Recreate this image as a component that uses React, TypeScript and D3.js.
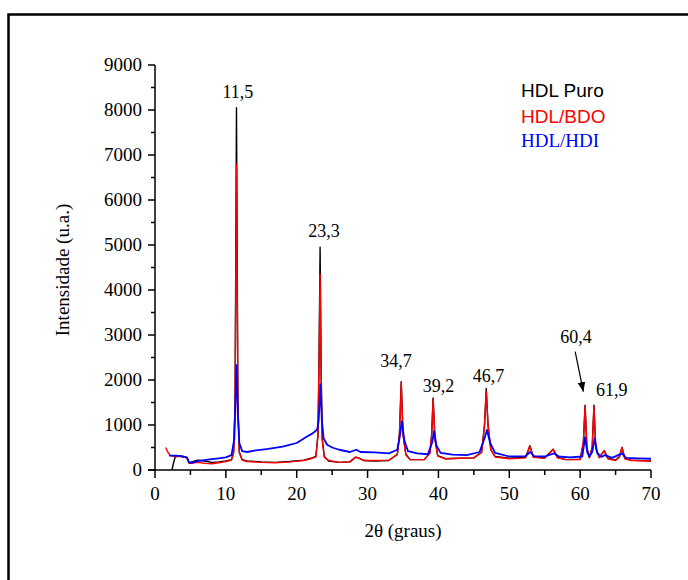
import { useEffect, useRef } from "react";
import * as d3 from "d3";

type Pt = [number, number];

// difratogramas (2θ, intensidade)
const hdlPuro: Pt[] = [
  [2.4, 0], [2.6, 150], [2.85, 290], [3.2, 310], [3.8, 300], [4.3, 290], [4.6, 250], [4.8, 160],
  [5.2, 180], [6, 220], [7, 200], [8, 170], [9, 180], [10, 200], [10.8, 230], [11.1, 400],
  [11.3, 1500], [11.5, 8050], [11.7, 1500], [11.9, 400], [12.3, 230], [13, 200], [15, 180],
  [17, 170], [19, 190], [21, 220], [22, 260], [22.7, 300], [23.0, 800], [23.15, 2500],
  [23.3, 4950], [23.45, 2200], [23.6, 700], [23.9, 300], [24.5, 200], [26, 170], [27.5, 180],
  [28.3, 280], [28.7, 270], [29.5, 210], [31, 200], [33, 210], [34.2, 350], [34.5, 800],
  [34.75, 1960], [35, 800], [35.4, 350], [36, 230], [38, 230], [38.8, 380], [39.05, 800],
  [39.25, 1600], [39.5, 700], [39.9, 320], [41, 250], [43, 260], [45, 270], [46.1, 400],
  [46.5, 1000], [46.75, 1810], [47, 1000], [47.4, 450], [48, 300], [50, 260], [52.3, 280],
  [52.9, 540], [53.4, 290], [55, 270], [56.2, 460], [56.8, 280], [58, 230], [60, 240],
  [60.45, 600], [60.7, 1440], [60.95, 500], [61.3, 280], [61.7, 500], [61.95, 1440],
  [62.2, 500], [62.7, 280], [63.4, 430], [63.9, 260], [65, 220], [65.55, 300], [65.9, 500],
  [66.3, 260], [67.2, 220], [70, 200],
];

const hdlBdo: Pt[] = [
  [1.5, 500], [1.8, 400], [2.2, 320], [2.8, 300], [3.2, 300], [3.8, 300], [4.3, 280], [4.6, 240],
  [4.8, 150], [5.2, 150], [6, 170], [7, 150], [8, 140], [9, 160], [10, 190], [10.8, 220],
  [11.1, 380], [11.3, 1400], [11.5, 6800], [11.7, 1400], [11.9, 380], [12.3, 220], [13, 190],
  [15, 170], [17, 160], [19, 180], [21, 210], [22, 250], [22.7, 290], [23.0, 750],
  [23.15, 2300], [23.3, 4350], [23.45, 2000], [23.6, 650], [23.9, 280], [24.5, 210], [26, 170],
  [27.5, 180], [28.3, 290], [28.7, 270], [29.5, 210], [31, 210], [33, 220], [34.2, 340],
  [34.5, 780], [34.75, 1940], [35, 780], [35.4, 340], [36, 230], [38, 230], [38.8, 370],
  [39.05, 780], [39.25, 1580], [39.5, 680], [39.9, 310], [41, 250], [43, 260], [45, 270],
  [46.1, 390], [46.5, 980], [46.75, 1740], [47, 980], [47.4, 440], [48, 290], [50, 250],
  [52.3, 270], [52.9, 530], [53.4, 280], [55, 260], [56.2, 460], [56.8, 270], [58, 230],
  [60, 230], [60.45, 590], [60.7, 1430], [60.95, 490], [61.3, 270], [61.7, 490], [61.95, 1420],
  [62.2, 490], [62.7, 270], [63.4, 430], [63.9, 250], [65, 210], [65.55, 290], [65.9, 500],
  [66.3, 250], [67.2, 210], [70, 200],
];

const hdlHdi: Pt[] = [
  [2.0, 320], [3, 320], [4, 300], [4.5, 280], [4.8, 170], [5.2, 160], [6, 200], [7, 220],
  [8, 240], [9, 260], [10, 280], [10.8, 330], [11.2, 700], [11.5, 2330], [11.7, 1200],
  [11.9, 600], [12.3, 420], [13, 400], [14, 430], [16, 470], [18, 520], [20, 600], [21.4, 740],
  [22.3, 820], [22.9, 900], [23.1, 1100], [23.35, 1900], [23.55, 1100], [23.8, 700],
  [24.3, 560], [25, 500], [26, 450], [27.5, 400], [28.4, 450], [29, 400], [31, 390], [33, 370],
  [34.2, 450], [34.5, 700], [34.85, 1080], [35.2, 650], [35.7, 420], [37, 370], [38.5, 350],
  [39.1, 600], [39.4, 870], [39.7, 550], [40.3, 380], [42, 340], [44, 330], [45.8, 400],
  [46.5, 700], [46.85, 890], [47.3, 600], [48, 380], [50, 300], [52.3, 310], [52.95, 400],
  [53.5, 310], [55, 300], [56.3, 370], [57, 300], [58.5, 280], [60.3, 300], [60.7, 730],
  [61, 400], [61.3, 300], [61.7, 400], [62.05, 700], [62.4, 380], [63, 290], [63.5, 330],
  [64.5, 270], [65.9, 370], [66.5, 270], [68, 260], [70, 250],
];

const xTicks = [0, 10, 20, 30, 40, 50, 60, 70];
const yTicks = [0, 1000, 2000, 3000, 4000, 5000, 6000, 7000, 8000, 9000];

// rótulos dos picos: texto, posição (2θ, intensidade) da linha de base
const peakLabels: [string, number, number][] = [
  ["11,5", 11.7, 8270],
  ["23,3", 23.85, 5185],
  ["34,7", 34.0, 2290],
  ["39,2", 40.0, 1740],
  ["46,7", 47.07, 1962],
  ["60,4", 59.4, 2830],
  ["61,9", 64.45, 1655],
];
const arrow: [Pt, Pt] = [[59.3, 2630], [60.45, 1740]];

const series = [
  { name: "HDL Puro", data: hdlPuro, color: "#000000", font: "'Liberation Sans', Arial, sans-serif" },
  { name: "HDL/BDO", data: hdlBdo, color: "#ff0000", font: "'Liberation Sans', Arial, sans-serif" },
  { name: "HDL/HDI", data: hdlHdi, color: "#0000ff", font: "'Liberation Serif', 'Times New Roman', serif" },
];

const SERIF = "'Liberation Serif', 'Times New Roman', serif";

const App = () => {
  const svgRef = useRef<SVGSVGElement>(null);

  useEffect(() => {
    const svg = d3.select(svgRef.current);
    svg.selectAll("*").remove();

    const x = d3.scaleLinear().domain([0, 70]).range([155, 651]);
    const y = d3.scaleLinear().domain([0, 9000]).range([470, 65]);

    // moldura
    svg.append("rect")
      .attr("x", 8.5).attr("y", 14.5).attr("width", 700).attr("height", 600)
      .attr("fill", "none").attr("stroke", "#000").attr("stroke-width", 2.5);

    // curvas
    const line = d3.line<Pt>().x((d) => x(d[0])).y((d) => y(d[1]));
    series.forEach((s) => {
      svg.append("path")
        .datum(s.data)
        .attr("d", line)
        .attr("fill", "none")
        .attr("stroke", s.color)
        .attr("stroke-width", s.name === "HDL/HDI" ? 1.8 : 1.4)
        .attr("stroke-linejoin", "round");
    });

    // eixo y
    const gy = svg.append("g");
    gy.append("line").attr("x1", 155).attr("x2", 155).attr("y1", y(9000)).attr("y2", y(0))
      .attr("stroke", "#000").attr("stroke-width", 1.5);
    d3.range(0, 9001, 500).forEach((v) => {
      const major = v % 1000 === 0;
      gy.append("line").attr("x1", 155).attr("x2", 155 - (major ? 7 : 4))
        .attr("y1", y(v)).attr("y2", y(v)).attr("stroke", "#000").attr("stroke-width", 1.5);
    });
    gy.selectAll("text").data(yTicks).enter().append("text")
      .attr("x", 142).attr("y", (d) => y(d)).attr("dy", "0.34em")
      .attr("text-anchor", "end").attr("font-family", SERIF).attr("font-size", 19)
      .text((d) => d);

    // eixo x
    const gx = svg.append("g");
    gx.append("line").attr("x1", 148).attr("x2", x(70)).attr("y1", 470).attr("y2", 470)
      .attr("stroke", "#000").attr("stroke-width", 1.5);
    d3.range(0, 71, 5).forEach((v) => {
      const major = v % 10 === 0;
      gx.append("line").attr("x1", x(v)).attr("x2", x(v))
        .attr("y1", 470).attr("y2", 470 + (major ? 8 : 5)).attr("stroke", "#000").attr("stroke-width", 1.5);
    });
    gx.selectAll("text").data(xTicks).enter().append("text")
      .attr("x", (d) => x(d)).attr("y", 500)
      .attr("text-anchor", "middle").attr("font-family", SERIF).attr("font-size", 19)
      .text((d) => d);

    // títulos
    svg.append("text").attr("x", 403).attr("y", 537).attr("text-anchor", "middle")
      .attr("font-family", SERIF).attr("font-size", 19).text("2θ (graus)");
    svg.append("text").attr("transform", "translate(69,270) rotate(-90)").attr("text-anchor", "middle")
      .attr("font-family", SERIF).attr("font-size", 19).text("Intensidade (u.a.)");

    // rótulos dos picos
    svg.selectAll(".peak").data(peakLabels).enter().append("text")
      .classed("peak", true)
      .attr("x", (d) => x(d[1])).attr("y", (d) => y(d[2]))
      .attr("text-anchor", "middle").attr("font-family", SERIF).attr("font-size", 18)
      .text((d) => d[0]);

    // seta 60,4
    svg.append("defs").append("marker")
      .attr("id", "head").attr("viewBox", "0 0 10 10").attr("refX", 10).attr("refY", 5)
      .attr("markerWidth", 8).attr("markerHeight", 8).attr("orient", "auto")
      .append("path").attr("d", "M0,1 L10,5 L0,9 z").attr("fill", "#000");
    svg.append("line")
      .attr("x1", x(arrow[0][0])).attr("y1", y(arrow[0][1]))
      .attr("x2", x(arrow[1][0])).attr("y2", y(arrow[1][1]))
      .attr("stroke", "#000").attr("stroke-width", 1.2).attr("marker-end", "url(#head)");

    // legenda
    svg.selectAll(".leg").data(series).enter().append("text")
      .classed("leg", true)
      .attr("x", 521).attr("y", (d, i) => [97, 123, 147][i])
      .attr("fill", (d) => d.color).attr("font-family", (d) => d.font).attr("font-size", 19)
      .text((d) => d.name);
  }, []);

  return (
    <svg
      ref={svgRef}
      width={688}
      height={580}
      style={{ position: "absolute", left: 0, top: 0 }}
    />
  );
};

export default App;
